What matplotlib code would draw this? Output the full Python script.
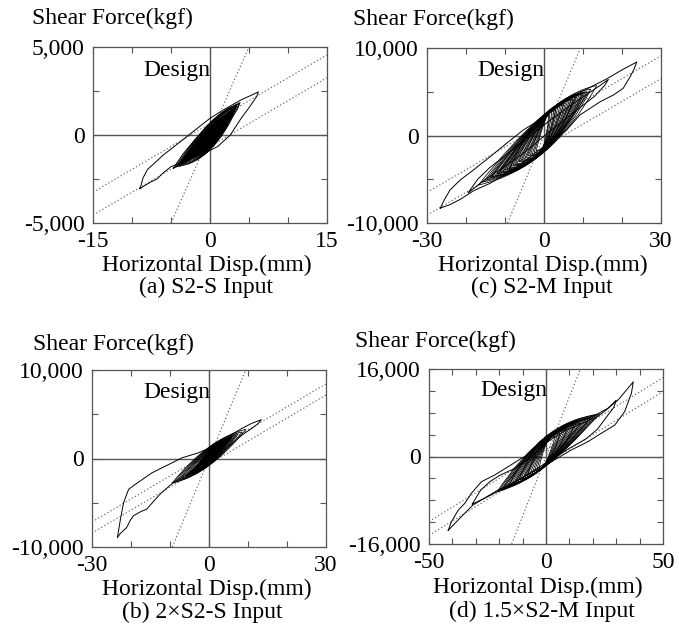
import matplotlib
matplotlib.use('Agg')
import matplotlib.pyplot as plt
from matplotlib.path import Path
from matplotlib.patches import PathPatch

plt.rcParams['font.family'] = ['Liberation Serif', 'DejaVu Serif']

W, H = 679, 634

# ---------------- panel (a) S2-S ----------------
a_outer_d = [-9.0, -8.8, -8.6, -8.0, -7.0, -6.0, -4.0, -2.0, 0.0, 2.0, 4.0, 5.5, 6.2,
             6.0, 5.0, 4.0, 2.6, 1.0, -1.0, -3.0, -5.0, -6.0, -6.8, -7.5, -8.3, -9.0]
a_outer_f = [-3050, -2800, -2450, -1950, -1550, -1140, -450, 250, 950, 1500, 2000, 2300, 2450,
             2200, 1550, 950, 0, -650, -1100, -1450, -1800, -2150, -2500, -2650, -2850, -3050]
a_mid_d = [-4.7, -3.5, -2.0, 0.0, 2.0, 3.2, 3.85, 3.5, 2.5, 1.0, 0.0, -2.0, -3.5, -4.7]
a_mid_f = [-1890, -1100, -300, 650, 1300, 1700, 1840, 1450, 800, -100, -550, -1250, -1650, -1890]
a_dmin = [-4.4, -4.2, -4.0, -3.7, -3.4, -3.1, -2.8, -2.5, -2.2, -1.9, -1.5, -1.1]
a_fmin = [-1800, -1750, -1680, -1600, -1500, -1400, -1300, -1180, -1060, -940, -760, -560]
a_dmax = [3.7, 3.5, 3.4, 3.2, 3.0, 2.8, 2.5, 2.3, 2.0, 1.7, 1.4, 1.0]
a_fmax = [1750, 1720, 1680, 1620, 1550, 1480, 1380, 1280, 1150, 1020, 860, 650]
a_qup = [700, 680, 660, 630, 600, 570, 540, 500, 460, 420, 360, 300]
a_qlow = [-850, -820, -800, -770, -740, -700, -660, -620, -580, -520, -450, -380]
a_core_d = [-4.0, -2.0, 0.0, 2.0, 3.4, 2.0, 0.0, -2.0, -4.0]
a_core_f = [-1700, -500, 500, 1150, 1650, 350, -750, -1250, -1700]

# ---------------- panel (b) 2 x S2-S ----------------
b_big_d = [2.0, 0.0, -3.0, -6.9, -10.3, -14.6, -18.9, -20.6, -21.9, -22.7, -23.5,
           -22.8, -21.1, -20.2, -19.4, -17.5, -16.0, -12.6, -9.2, -6.0, -3.0, 0.0, 2.0]
b_big_f = [1700, 1150, 600, 80, -670, -1610, -2920, -3480, -4980, -6850, -8950,
           -8500, -7790, -7000, -6480, -6000, -5730, -4045, -2730, -1900, -1100, -400, 200]
b_r_d = [0.0, 2.0, 4.2, 6.5, 8.5, 11.0, 13.4, 12.5, 11.0, 8.5, 5.9, 3.3, 1.0, 0.0]
b_r_f = [1100, 1700, 2280, 2900, 3410, 3980, 4380, 3900, 3410, 2660, 1720, 770, 0, -300]
b_dmin = [-9.5, -9.0, -8.2, -7.5, -7.0, -6.2, -5.5, -4.8, -4.0, -3.3, -2.5, -1.8]
b_fmin = [-2800, -2700, -2500, -2350, -2200, -2000, -1800, -1650, -1450, -1250, -1000, -800]
b_dmax = [9.5, 8.5, 7.5, 7.0, 6.5, 6.0, 5.5, 5.0, 4.3, 3.5, 2.8, 2.0]
b_fmax = [3300, 3000, 2800, 2650, 2500, 2350, 2200, 2050, 1850, 1600, 1400, 1150]
b_qup = [1300, 1250, 1200, 1150, 1100, 1050, 1000, 950, 900, 800, 700, 600]
b_qlow = [-800, -780, -760, -740, -720, -700, -660, -620, -580, -520, -450, -380]
b_core_d = [-6.0, -3.0, 0.0, 3.0, 6.0, 3.0, 0.0, -3.0, -6.0]
b_core_f = [-2000, -800, 900, 1800, 2500, 800, -500, -1400, -2000]

# ---------------- panel (c) S2-M ----------------
c_out_d = [-26.6, -25.5, -24.1, -21.5, -18.1, -13.8, -9.6, -5.3, 0.0, 5.0, 10.0, 16.0, 20.0, 23.8,
           23.0, 22.1, 20.3, 17.8, 14.4, 9.2, 5.8, 2.4, -2.0, -6.0, -10.0, -14.0, -18.0, -21.5, -24.1, -26.6]
c_out_f = [-8300, -7300, -6230, -5090, -3940, -2420, -890, 630, 2100, 3700, 5100, 6450, 7500, 8400,
           7500, 6720, 5390, 4630, 3860, 2340, 630, -510, -1900, -3300, -4500, -5500, -6300, -7300, -7900, -8300]
c_mid_d = [-19.4, -17.0, -14.0, -10.0, -6.0, -2.0, 2.0, 6.0, 10.0, 14.0, 16.5,
           15.5, 13.0, 9.0, 5.0, 1.0, -3.0, -7.0, -11.0, -15.0, -19.4]
c_mid_f = [-6530, -5000, -3700, -2300, -900, 500, 1900, 3200, 4400, 5600, 6400,
           5700, 4500, 3100, 1700, 300, -1200, -2600, -3800, -5000, -6530]
c_dmin = [-16.8, -15.5, -14.7, -14.0, -13.6, -13.2, -12.5, -12.0, -11.5, -11.0,
          -10.5, -10.0, -9.5, -9.0, -8.5, -8.0, -7.5, -7.0, -6.5, -6.0,
          -5.5, -5.0, -4.5, -4.0, -3.5, -3.0, -2.5, -2.0, -9.0, -12.0]
c_fmin = [-5660, -5300, -5100, -4900, -4800, -4700, -4600, -4400, -4300, -4200,
          -4100, -3900, -3800, -3700, -3500, -3400, -3300, -3200, -3000, -2900,
          -2800, -2700, -2500, -2300, -2200, -2100, -1900, -1700, -3900, -4600]
c_dmax = [13.5, 12.0, 11.0, 10.1, 10.5, 9.5, 9.0, 8.5, 9.8, 8.0,
          7.5, 7.0, 8.2, 6.5, 6.0, 5.5, 7.0, 5.0, 4.5, 4.0,
          5.0, 3.5, 3.0, 2.5, 3.0, 2.0, 1.5, 1.2, 11.5, 7.5]
c_fmax = [5700, 5300, 5000, 4820, 4900, 4700, 4600, 4500, 4700, 4400,
          4200, 4100, 4400, 4000, 3900, 3700, 4100, 3600, 3500, 3300,
          3500, 3200, 3000, 2800, 2900, 2700, 2500, 2300, 5000, 4100]
c_qup = [2400, 2400, 2350, 2300, 2300, 2250, 2250, 2200, 2250, 2200,
         2150, 2100, 2150, 2100, 2050, 2000, 2050, 1950, 1900, 1850,
         1900, 1800, 1750, 1700, 1700, 1600, 1500, 1400, 2300, 2150]
c_qlow = [-1900, -1900, -1850, -1850, -1800, -1800, -1800, -1750, -1750, -1700,
          -1700, -1650, -1650, -1600, -1600, -1550, -1550, -1500, -1450, -1400,
          -1400, -1350, -1300, -1250, -1250, -1200, -1100, -1000, -1700, -1750]

# ---------------- panel (d) 1.5 x S2-M ----------------
d_out_d = [-41.8, -40.5, -37.5, -34.7, -31.9, -27.6, -21.9, -16.2, -10.5, -7.7, 0.0, 6.5, 13.7,
           20.8, 26.5, 30.8, 35.0, 37.3, 36.5, 33.6, 29.4, 23.6, 17.9, 10.8, 0.0, -10.5,
           -20.5, -31.2, -36.2, -41.8]
d_out_f = [-13500, -12000, -9800, -8560, -6730, -4610, -3380, -1870, -330, 270, 3700, 5200, 6400,
           7500, 8820, 10330, 12470, 13650, 11560, 8190, 5760, 4240, 2710, 1190, -1550, -3990,
           -6130, -8870, -11010, -13500]
d_mid_d = [-31.5, -28.0, -24.0, -20.0, -14.0, -8.0, 0.0, 8.0, 15.0, 22.0, 26.0, 30.0,
           29.0, 26.0, 22.0, 17.0, 10.0, 0.0, -8.0, -16.0, -22.0, -27.0, -31.5]
d_mid_f = [-8700, -6200, -4600, -3500, -2300, -600, 2500, 4700, 6000, 7300, 8600, 10300,
           9000, 7300, 5000, 3200, 1500, -1200, -3300, -5300, -6700, -7800, -8700]
d_dmin = [-21, -20, -19, -18, -17, -16, -15, -14, -13, -12, -11, -10, -9, -8, -7, -6,
          -5, -4, -3, -16, -12, -8, -19, -14, -10]
d_fmin = [-6500, -6200, -6000, -5800, -5600, -5400, -5200, -5000, -4800, -4600, -4300,
          -4100, -3900, -3600, -3400, -3200, -2900, -2600, -2300, -5500, -4700, -3700,
          -6100, -5100, -4200]
d_dmax = [22, 21, 20, 19, 18, 17, 16, 15, 14, 13, 12, 11, 10, 9, 8, 7, 6, 5, 4, 23, 19, 15,
          12, 9, 6]
d_fmax = [7600, 7400, 7200, 7000, 6800, 6600, 6400, 6200, 6000, 5800, 5600, 5400, 5200,
          5000, 4800, 4600, 4300, 4000, 3700, 7800, 7000, 6100, 5600, 5000, 4300]
d_qup = [3600, 3500, 3450, 3400, 3350, 3300, 3250, 3200, 3100, 3000, 2950, 2900, 2800,
         2700, 2600, 2500, 2400, 2300, 2200, 3700, 3400, 3000, 3200, 2800, 2500]
d_qlow = [-1750, -1700, -1650, -1650, -1600, -1600, -1550, -1500, -1500, -1450, -1400,
          -1350, -1300, -1250, -1200, -1150, -1100, -1050, -1000, -1600, -1500, -1300,
          -1700, -1500, -1300]

# design lines: initial stiffness, post-yield stiffness, characteristic strength
design_a = (1000, 260, 650)
design_b = (1065, 260, 630)
design_c = (1070, 260, 1300)
design_d = (1090, 263, 1270)

fig = plt.figure(figsize=(W / 100, H / 100), dpi=100)
FS = 17
LW = 0.7


def make_axes(l, t, r, b):
    return fig.add_axes([l / W, 1 - b / H, (r - l) / W, (b - t) / H])


def px_text(x, y, s, ha='left'):
    fig.text(x / W, 1 - y / H, s, ha=ha, va='baseline', fontsize=FS)


def setup(ax, xmax, ymax, xstep, ystep, ylab):
    ax.set_xlim(-xmax, xmax)
    ax.set_ylim(-ymax, ymax)
    ax.set_xticks([-xmax, 0, xmax])
    ax.set_xticklabels(['-%d' % xmax, '0', '%d' % xmax])
    ax.set_yticks([-ymax, 0, ymax])
    ax.set_yticklabels(['-' + ylab, '0', ylab])
    xm = [v * xstep for v in range(-int(xmax / xstep), int(xmax / xstep) + 1)]
    ym = [v * ystep for v in range(-int(ymax / ystep), int(ymax / ystep) + 1)]
    ax.set_xticks(xm, minor=True)
    ax.set_yticks(ym, minor=True)
    ax.tick_params(which='both', direction='in', top=True, right=True,
                   length=4, width=0.8, color='#555', labelsize=FS, pad=6)
    for s in ax.spines.values():
        s.set_color('#555')
        s.set_linewidth(0.9)
    ax.axhline(0, color='#555', lw=1.0, zorder=1)
    ax.axvline(0, color='#555', lw=1.0, zorder=1)


def design(ax, p):
    k1, k2, q = p
    ax.axline((0, 0), slope=k1, color='#666', lw=0.8, ls=(0, (1.2, 2)), zorder=1)
    ax.axline((0, q), slope=k2, color='#666', lw=0.8, ls=(0, (1.2, 2)), zorder=1)
    ax.axline((0, -q), slope=k2, color='#666', lw=0.8, ls=(0, (1.2, 2)), zorder=1)


def loops(ax, dmin, fmin, dmax, fmax, qup, qlow):
    # each cycle: a lens through its two peaks and its two zero-displacement crossings
    for i in range(len(dmin)):
        p0 = (dmin[i], fmin[i])
        p1 = (dmax[i], fmax[i])
        mx = 0.5 * (p0[0] + p1[0])
        my = 0.5 * (p0[1] + p1[1])
        cu = (-mx, 2 * qup[i] - my)
        cl = (-mx, 2 * qlow[i] - my)
        verts = [p0, cu, p1, cl, p0]
        codes = [Path.MOVETO, Path.CURVE3, Path.CURVE3, Path.CURVE3, Path.CURVE3]
        ax.add_patch(PathPatch(Path(verts, codes), fill=False, ec='black',
                               lw=0.55, zorder=2))


# (a)
ax = make_axes(93, 47, 327, 223)
setup(ax, 15, 5000, 5, 2500, '5,000')
design(ax, design_a)
ax.plot(a_outer_d, a_outer_f, color='black', lw=LW, zorder=2)
ax.plot(a_mid_d, a_mid_f, color='black', lw=LW, zorder=2)
loops(ax, a_dmin, a_fmin, a_dmax, a_fmax, a_qup, a_qlow)
ax.fill(a_core_d, a_core_f, color='black', zorder=2)
px_text(32, 24, 'Shear Force(kgf)')
px_text(143, 76, 'Design')
px_text(207, 271, 'Horizontal Disp.(mm)', ha='center')
px_text(206, 293, '(a) S2-S Input', ha='center')

# (c)
ax = make_axes(427, 48, 661, 223)
setup(ax, 30, 10000, 10, 5000, '10,000')
design(ax, design_c)
ax.plot(c_out_d, c_out_f, color='black', lw=LW, zorder=2)
ax.plot(c_mid_d, c_mid_f, color='black', lw=LW, zorder=2)
loops(ax, c_dmin, c_fmin, c_dmax, c_fmax, c_qup, c_qlow)
px_text(353, 25, 'Shear Force(kgf)')
px_text(477, 76, 'Design')
px_text(543, 271, 'Horizontal Disp.(mm)', ha='center')
px_text(542, 293, '(c) S2-M Input', ha='center')

# (b)
ax = make_axes(92, 370, 326, 547)
setup(ax, 30, 10000, 10, 5000, '10,000')
design(ax, design_b)
ax.plot(b_big_d, b_big_f, color='black', lw=LW, zorder=2)
ax.plot(b_r_d, b_r_f, color='black', lw=LW, zorder=2)
loops(ax, b_dmin, b_fmin, b_dmax, b_fmax, b_qup, b_qlow)
ax.fill(b_core_d, b_core_f, color='black', zorder=2)
px_text(33, 350, 'Shear Force(kgf)')
px_text(143, 398, 'Design')
px_text(207, 595, 'Horizontal Disp.(mm)', ha='center')
px_text(202, 618, '(b) 2×S2-S Input', ha='center')

# (d)
ax = make_axes(429, 369, 663, 544)
setup(ax, 50, 16000, 10, 4000, '16,000')
design(ax, design_d)
ax.plot(d_out_d, d_out_f, color='black', lw=LW, zorder=2)
ax.plot(d_mid_d, d_mid_f, color='black', lw=LW, zorder=2)
loops(ax, d_dmin, d_fmin, d_dmax, d_fmax, d_qup, d_qlow)
px_text(355, 347, 'Shear Force(kgf)')
px_text(480, 396, 'Design')
px_text(538, 593, 'Horizontal Disp.(mm)', ha='center')
px_text(542, 617, '(d) 1.5×S2-M Input', ha='center')

fig.savefig('out.png', dpi=100)
